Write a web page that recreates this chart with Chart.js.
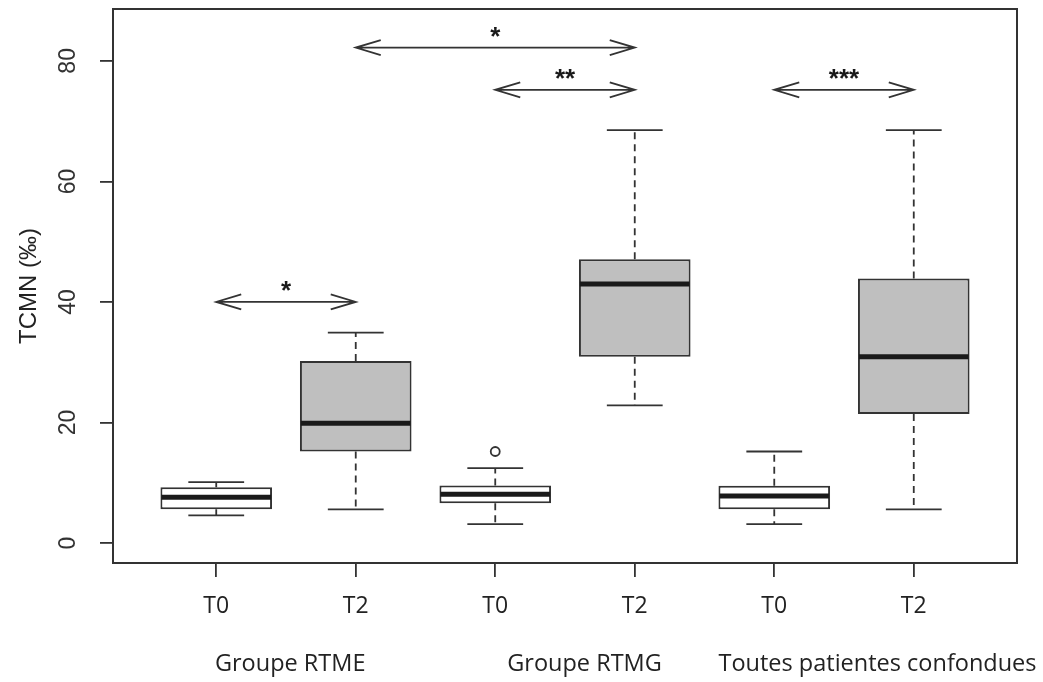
<!DOCTYPE html>
<html>
<head>
<meta charset="utf-8">
<script src="https://cdn.jsdelivr.net/npm/chart.js@4.4.1/dist/chart.umd.min.js"></script>
<style>
  html, body { margin: 0; padding: 0; background: #ffffff; }
  #wrap { width: 1043px; height: 682px; position: relative; }
</style>
</head>
<body>
<div id="wrap"><canvas id="c" width="1043" height="682"></canvas></div>
<script>
// ---- data ----
const categories = ['T0', 'T2', 'T0', 'T2', 'T0', 'T2'];
const positions = [1, 2, 3, 4, 5, 6];
const whiskerLow = [4.6, 5.6, 3.15, 22.85, 3.15, 5.6];
const q1 = [5.6, 15.2, 6.6, 30.9, 5.6, 21.4];
const median = [7.6, 19.9, 8.1, 43.0, 7.8, 30.9];
const q3 = [9.25, 30.2, 9.55, 47.1, 9.5, 43.9];
const whiskerHigh = [10.1, 34.9, 12.45, 68.5, 15.2, 68.5];
const outliers = [[], [], [15.2], [], [], []];
const yTicks = [0, 20, 40, 60, 80];
const groupNames = ['Groupe RTME', 'Groupe RTMG', 'Toutes patientes confondues'];
const groupLabelX = [1.53, 3.64, 5.74];
const sigFrom = [1, 2, 3, 5];
const sigTo = [2, 4, 4, 6];
const sigY = [40, 82.2, 75.2, 75.2];
const sigText = ['*', '*', '**', '***'];
const yTitle = 'TCMN (‰)';

// ---- styles ----
const INK = '#333333';
const boxFill = ['#ffffff', '#bfbfbf', '#ffffff', '#bfbfbf', '#ffffff', '#bfbfbf'];

const boxPlugin = {
  id: 'boxExtras',
  afterDatasetsDraw(chart) {
    const ctx = chart.ctx;
    const xs = chart.scales.x, ys = chart.scales.y;
    const meta = chart.getDatasetMeta(0);
    ctx.save();
    ctx.strokeStyle = INK;
    ctx.lineWidth = 1.8;
    positions.forEach((p, i) => {
      const x = xs.getPixelForValue(p);
      const bw = meta.data[i].width;
      const capHalf = bw / 4;
      // whiskers (dashed)
      ctx.setLineDash([7, 5]);
      ctx.beginPath();
      ctx.moveTo(x, ys.getPixelForValue(q3[i]));
      ctx.lineTo(x, ys.getPixelForValue(whiskerHigh[i]));
      ctx.moveTo(x, ys.getPixelForValue(q1[i]));
      ctx.lineTo(x, ys.getPixelForValue(whiskerLow[i]));
      ctx.stroke();
      ctx.setLineDash([]);
      // caps
      ctx.beginPath();
      const yh = ys.getPixelForValue(whiskerHigh[i]);
      const yl = ys.getPixelForValue(whiskerLow[i]);
      ctx.moveTo(x - capHalf, yh); ctx.lineTo(x + capHalf, yh);
      ctx.moveTo(x - capHalf, yl); ctx.lineTo(x + capHalf, yl);
      ctx.stroke();
      // median
      ctx.save();
      ctx.lineWidth = 5;
      ctx.strokeStyle = '#1a1a1a';
      const ym = ys.getPixelForValue(median[i]);
      ctx.beginPath();
      ctx.moveTo(x - bw / 2 + 1, ym); ctx.lineTo(x + bw / 2 - 1, ym);
      ctx.stroke();
      ctx.restore();
      // outliers
      outliers[i].forEach(v => {
        ctx.beginPath();
        ctx.arc(x, ys.getPixelForValue(v), 4.5, 0, Math.PI * 2);
        ctx.fillStyle = '#ffffff';
        ctx.fill();
        ctx.stroke();
      });
    });

    // significance arrows
    sigFrom.forEach((f, i) => {
      const x1 = xs.getPixelForValue(f);
      const x2 = xs.getPixelForValue(sigTo[i]);
      const y = ys.getPixelForValue(sigY[i]);
      ctx.beginPath();
      ctx.moveTo(x1, y); ctx.lineTo(x2, y);
      ctx.moveTo(x1 + 25, y - 7.5); ctx.lineTo(x1, y); ctx.lineTo(x1 + 25, y + 7.5);
      ctx.moveTo(x2 - 25, y - 7.5); ctx.lineTo(x2, y); ctx.lineTo(x2 - 25, y + 7.5);
      ctx.stroke();
      ctx.fillStyle = '#1a1a1a';
      ctx.font = 'bold 26px "Liberation Sans", Arial, sans-serif';
      ctx.textAlign = 'center';
      ctx.textBaseline = 'alphabetic';
      ctx.fillText(sigText[i], (x1 + x2) / 2, y - 3);
    });

    // frame
    const a = chart.chartArea;
    ctx.lineWidth = 2;
    ctx.strokeStyle = INK;
    ctx.strokeRect(a.left, a.top, a.right - a.left, a.bottom - a.top);

    // y tick labels (rotated)
    ctx.fillStyle = '#333333';
    ctx.font = '23px "Liberation Sans", Arial, sans-serif';
    ctx.textAlign = 'center';
    ctx.textBaseline = 'middle';
    yTicks.forEach(v => {
      ctx.save();
      ctx.translate(69, ys.getPixelForValue(v));
      ctx.rotate(-Math.PI / 2);
      ctx.fillText(String(v), 0, 0);
      ctx.restore();
    });
    // y title
    ctx.save();
    ctx.translate(29, (a.top + a.bottom) / 2);
    ctx.rotate(-Math.PI / 2);
    ctx.font = '24px "Liberation Sans", Arial, sans-serif';
    ctx.fillStyle = '#222222';
    ctx.fillText(yTitle, 0, 0);
    ctx.restore();

    // group labels
    ctx.font = '23.5px "Open Sans", sans-serif';
    ctx.fillStyle = '#222222';
    groupNames.forEach((g, i) => {
      ctx.fillText(g, xs.getPixelForValue(groupLabelX[i]), 664);
    });
    ctx.restore();
  }
};

new Chart(document.getElementById('c'), {
  type: 'bar',
  data: {
    datasets: [{
      data: positions.map((p, i) => ({ x: p, y: [q1[i], q3[i]] })),
      backgroundColor: boxFill,
      borderColor: INK,
      borderWidth: 2,
      borderSkipped: false,
      barPercentage: 1,
      categoryPercentage: 0.8
    }]
  },
  options: {
    responsive: false,
    animation: false,
    events: [],
    layout: { padding: { left: 0, right: 26, top: 9, bottom: 0 } },
    plugins: { legend: { display: false }, tooltip: { enabled: false } },
    scales: {
      x: {
        type: 'linear',
        min: 0.26, max: 6.74,
        offset: false,
        afterBuildTicks: s => { s.ticks = positions.map(v => ({ value: v })); },
        afterFit: s => { s.height = 119; },
        border: { display: false },
        grid: { offset: false, drawOnChartArea: false, drawTicks: true, tickLength: 14, color: INK, lineWidth: 1.8 },
        ticks: {
          callback: v => categories[positions.indexOf(v)],
          font: { family: '"Open Sans", sans-serif', size: 23 },
          color: '#222222',
          padding: 16,
          maxRotation: 0, minRotation: 0, autoSkip: false
        }
      },
      y: {
        min: -3.3, max: 88.6,
        afterBuildTicks: s => { s.ticks = yTicks.map(v => ({ value: v })); },
        afterFit: s => { s.width = 113; },
        border: { display: false },
        grid: { drawOnChartArea: false, drawTicks: true, tickLength: 13, color: INK, lineWidth: 1.8 },
        ticks: { display: false }
      }
    }
  },
  plugins: [boxPlugin]
});
</script>
</body>
</html>
